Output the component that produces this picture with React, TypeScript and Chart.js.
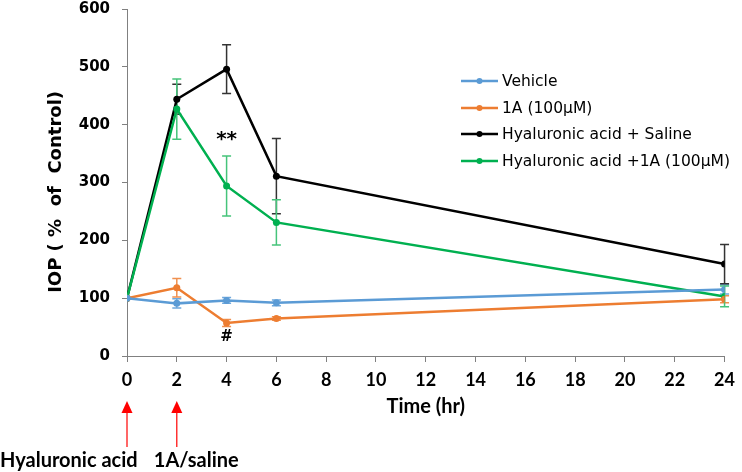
import React, { useEffect, useRef } from "react";
import { Chart, registerables } from "chart.js";
Chart.register(...registerables);

const timePoints = [0, 2, 4, 6, 24];
const seriesNames = ["Vehicle", "1A (100μM)", "Hyaluronic acid + Saline", "Hyaluronic acid +1A (100μM)"];
const vehicle = [100, 91, 96, 92, 115];
const vehicleErr = [0, 8, 5, 5, 8];
const oneA = [100, 118, 57, 65, 98];
const oneAErr = [0, 16, 6, 3, 6];
const haSaline = [100, 444, 496, 311, 159];
const haSalineErr = [0, 26, 42, 65, 34];
const haOneA = [100, 427, 294, 231, 103];
const haOneAErr = [0, 52, 52, 39, 18];
const seriesColors = ["#5B9BD5", "#ED7D31", "#000000", "#00B050"];
const errColors = ["#6FA8DC", "#F0904F", "#333333", "#45C47A"];
const arrowTimes = [0, 2];
const arrowLabels = ["Hyaluronic acid", "1A/saline"];
const noteTexts = ["**", "#"];
const noteTimes = [4, 4];
const noteValues = [373, 32];
const xTitle = "Time (hr)";
const yTitle = "IOP ( %  of  Control)   ";

const allValues = [vehicle, oneA, haSaline, haOneA];
const allErrors = [vehicleErr, oneAErr, haSalineErr, haOneAErr];

const errorBarPlugin = {
  id: "errorBars",
  beforeDatasetsDraw(chart: any) {
    const ctx = chart.ctx;
    const xs = chart.scales.x;
    const ys = chart.scales.y;
    ctx.save();
    allValues.forEach((vals, i) => {
      const errs = allErrors[i];
      ctx.strokeStyle = errColors[i];
      ctx.lineWidth = 1.5;
      vals.forEach((v, j) => {
        const e = errs[j];
        if (!e) return;
        const x = xs.getPixelForValue(timePoints[j]);
        const yt = ys.getPixelForValue(v + e);
        const yb = ys.getPixelForValue(v - e);
        ctx.beginPath();
        ctx.moveTo(x, yt);
        ctx.lineTo(x, yb);
        ctx.moveTo(x - 4.5, yt);
        ctx.lineTo(x + 4.5, yt);
        ctx.moveTo(x - 4.5, yb);
        ctx.lineTo(x + 4.5, yb);
        ctx.stroke();
      });
    });
    ctx.restore();
  },
};

const extrasPlugin = {
  id: "extras",
  afterDraw(chart: any) {
    const ctx = chart.ctx;
    const xs = chart.scales.x;
    const ys = chart.scales.y;
    ctx.save();
    // legend
    const lx0 = 461, lx1 = 498, tx = 502;
    const rows = [81, 108, 134, 161];
    seriesNames.forEach((name, i) => {
      const y = rows[i];
      ctx.strokeStyle = seriesColors[i];
      ctx.lineWidth = 2.5;
      ctx.beginPath();
      ctx.moveTo(lx0, y);
      ctx.lineTo(lx1, y);
      ctx.stroke();
      ctx.fillStyle = seriesColors[i];
      ctx.beginPath();
      ctx.arc((lx0 + lx1) / 2, y, 3, 0, Math.PI * 2);
      ctx.fill();
      ctx.fillStyle = "#000";
      ctx.font = "15.5px 'DejaVu Sans'";
      ctx.textAlign = "left";
      ctx.textBaseline = "middle";
      ctx.fillText(name, tx, y + 1);
    });
    // annotations
    ctx.fillStyle = "#000";
    ctx.textAlign = "center";
    ctx.textBaseline = "middle";
    noteTexts.forEach((t, i) => {
      ctx.font = i === 0 ? "bold 20px 'DejaVu Sans'" : "bold 15px 'DejaVu Sans'";
      ctx.fillText(t, xs.getPixelForValue(noteTimes[i]), ys.getPixelForValue(noteValues[i]));
    });
    // arrows
    const labelOffsets = [-127, -23];
    arrowTimes.forEach((t, i) => {
      const x = xs.getPixelForValue(t);
      ctx.strokeStyle = "#FF0000";
      ctx.fillStyle = "#FF0000";
      ctx.lineWidth = 1.2;
      ctx.beginPath();
      ctx.moveTo(x, 447);
      ctx.lineTo(x, 411);
      ctx.stroke();
      ctx.beginPath();
      ctx.moveTo(x, 401);
      ctx.lineTo(x - 5.5, 413);
      ctx.lineTo(x + 5.5, 413);
      ctx.closePath();
      ctx.fill();
      ctx.fillStyle = "#000";
      ctx.font = "bold 20px Lato";
      ctx.textAlign = "left";
      ctx.textBaseline = "middle";
      ctx.fillText(arrowLabels[i], x + labelOffsets[i], 461);
    });
    ctx.restore();
  },
};

export default function App() {
  const ref = useRef<HTMLCanvasElement>(null);
  useEffect(() => {
    if (!ref.current) return;
    const chart = new Chart(ref.current, {
      type: "line",
      data: {
        datasets: allValues.map((vals, i) => ({
          label: seriesNames[i],
          data: vals.map((v, j) => ({ x: timePoints[j], y: v })),
          borderColor: seriesColors[i],
          backgroundColor: seriesColors[i],
          pointBackgroundColor: seriesColors[i],
          pointBorderColor: seriesColors[i],
          borderWidth: 2.5,
          pointRadius: 3.5,
          pointBorderWidth: 0,
          tension: 0,
          fill: false,
          order: [0, 1, 3, 2][i],
        })),
      },
      options: {
        animation: false,
        responsive: true,
        maintainAspectRatio: false,
        layout: { padding: { left: 0, right: 13, top: 9, bottom: 42 } },
        plugins: { legend: { display: false }, tooltip: { enabled: false } },
        scales: {
          x: {
            type: "linear",
            min: 0,
            max: 24,
            ticks: {
              stepSize: 2,
              color: "#000",
              font: { family: "Lato", weight: "bold", size: 18 },
              padding: 7,
              maxRotation: 0,
            },
            grid: { display: true, drawOnChartArea: false, drawTicks: true, tickLength: 6, color: "#808080" },
            border: { display: true, color: "#808080", width: 1 },
            title: {
              display: true,
              text: xTitle,
              color: "#000",
              font: { family: "Lato", weight: "bold", size: 20 },
              padding: { top: 0, bottom: 11 },
            },
            afterFit: (s: any) => { s.height = 74; },
          },
          y: {
            min: 0,
            max: 600,
            ticks: {
              stepSize: 100,
              color: "#000",
              font: { family: "DejaVu Sans", weight: "bold", size: 15 },
              padding: 12,
            },
            grid: { display: true, drawOnChartArea: false, drawTicks: true, tickLength: 5, color: "#808080" },
            border: { display: true, color: "#808080", width: 1 },
            title: {
              display: true,
              text: yTitle,
              color: "#000",
              font: { family: "DejaVu Sans", weight: "bold", size: 18 },
              padding: { top: 46, bottom: 0 },
            },
            afterFit: (s: any) => { s.width = 127; s.paddingTop = 0; s.paddingBottom = 0; },
          },
        },
      },
      plugins: [errorBarPlugin, extrasPlugin],
    } as any);
    return () => chart.destroy();
  }, []);
  return (
    <div style={{ position: "fixed", left: 0, top: 0, width: 742, height: 472, background: "#fff" }}>
      <canvas ref={ref} />
    </div>
  );
}
